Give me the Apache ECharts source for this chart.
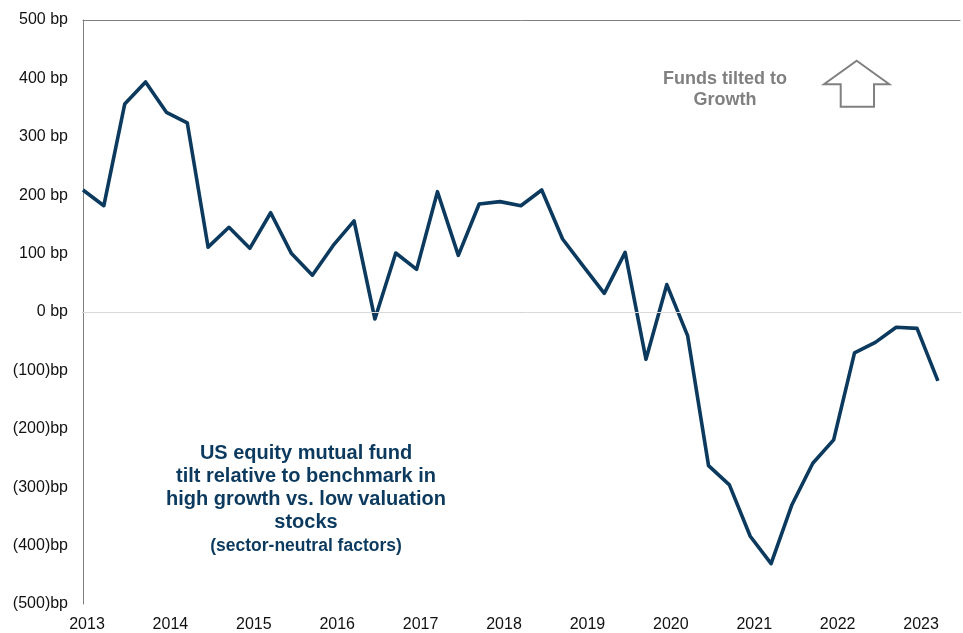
<!DOCTYPE html>
<html>
<head>
<meta charset="utf-8">
<script src="https://cdn.jsdelivr.net/npm/echarts@6/dist/echarts.min.js"></script>
<style>
html,body{margin:0;padding:0;background:#fff;}
#chart{width:963px;height:633px;}
</style>
</head>
<body>
<div id="chart"></div>
<script>
// Quarterly observations, starting 2013 Q1
const startYear = 2013;
const tiltValues = [209, 182, 356, 394, 342, 324, 111, 145, 109, 170,
  100, 63, 114, 156, -12, 101, 73, 206, 97, 185,
  189, 182, 209, 125, 78, 32, 102, -81, 47, -41,
  -263, -296, -384, -431, -330, -259, -219, -70, -52, -26,
  -28, -118];
const yearTicks = [2013, 2014, 2015, 2016, 2017, 2018, 2019, 2020, 2021, 2022, 2023];
const noteMain = ['US equity mutual fund', 'tilt relative to benchmark in', 'high growth vs. low valuation', 'stocks'];
const noteSub = '(sector-neutral factors)';
const noteGrowth = ['Funds tilted to', 'Growth'];

const seriesData = tiltValues.map((v, i) => [startYear + i * 0.25, v]);

const navy = '#0c3a5f';
const grey = '#808080';
const font = 'Liberation Sans, Arial, sans-serif';

const chart = echarts.init(document.getElementById('chart'));
const xMin = 2013, xMax = 2023.515;

const graphics = [];
noteMain.forEach((t, k) => {
  graphics.push({type: 'text', style: {
    text: t, x: 306, y: 453 + k * 23.3, textAlign: 'center', textVerticalAlign: 'middle',
    font: 'bold 20px ' + font, fill: navy}});
});
graphics.push({type: 'text', style: {
  text: noteSub, x: 306, y: 546, textAlign: 'center', textVerticalAlign: 'middle',
  font: 'bold 17.5px ' + font, fill: navy}});
noteGrowth.forEach((t, k) => {
  graphics.push({type: 'text', style: {
    text: t, x: 725, y: 79 + k * 21.5, textAlign: 'center', textVerticalAlign: 'middle',
    font: 'bold 18px ' + font, fill: grey}});
});
graphics.push({type: 'polygon', shape: {points: [
  [856.7, 60.7], [889.3, 84.3], [874, 84.3], [874, 106.7], [840.7, 106.7], [840.7, 84.3], [824, 84.3]
]}, style: {fill: 'none', stroke: grey, lineWidth: 2}});

chart.setOption({
  animation: false,
  backgroundColor: '#fff',
  grid: {left: 83, top: 20, right: 0, bottom: 28},
  xAxis: [{
    type: 'value', min: xMin, max: xMax, interval: 1,
    axisLine: {show: true, lineStyle: {color: '#7f7f7f', width: 1}},
    axisTick: {show: false},
    splitLine: {show: false},
    axisLabel: {
      margin: 13, fontSize: 16, color: '#111', fontFamily: font, padding: [0, 0, 0, 8],
      formatter: v => (Math.abs(v - Math.round(v)) < 1e-6 && yearTicks.includes(Math.round(v))) ? String(Math.round(v)) : ''
    }
  }, {
    type: 'value', position: 'top', min: xMin, max: xMax, interval: 1,
    axisLine: {show: true, lineStyle: {color: '#7f7f7f', width: 1}},
    axisTick: {show: false}, axisLabel: {show: false}, splitLine: {show: false}
  }],
  yAxis: {
    type: 'value', min: -500, max: 500, interval: 100,
    axisLine: {show: true, lineStyle: {color: '#7f7f7f', width: 1}},
    axisTick: {show: false},
    splitLine: {show: false},
    axisLabel: {
      margin: 15, fontSize: 16, color: '#111', fontFamily: font,
      formatter: v => v >= 0 ? v + ' bp' : '(' + (-v) + ')bp'
    }
  },
  series: [{
    type: 'line', data: seriesData, showSymbol: false, symbol: 'none',
    lineStyle: {color: navy, width: 3.6, join: 'round'},
    markLine: {
      silent: true, symbol: 'none', label: {show: false},
      lineStyle: {color: '#d9d9d9', width: 1, type: 'solid'},
      data: [{yAxis: 0}]
    },
    z: 3
  }],
  graphic: graphics
});
</script>
</body>
</html>
